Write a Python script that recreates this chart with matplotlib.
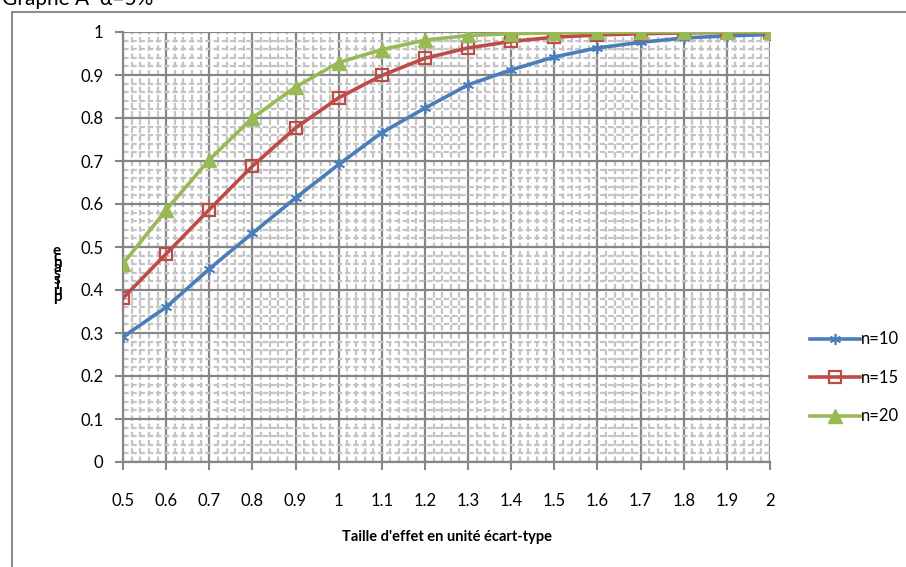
import numpy as np
import matplotlib
matplotlib.use("Agg")
import matplotlib.pyplot as plt
from matplotlib.patches import Rectangle

# data
effect = [0.5, 0.6, 0.7, 0.8, 0.9, 1.0, 1.1, 1.2, 1.3, 1.4, 1.5, 1.6, 1.7, 1.8, 1.9, 2.0]
x_labels = ["0.5", "0.6", "0.7", "0.8", "0.9", "1", "1.1", "1.2", "1.3", "1.4",
            "1.5", "1.6", "1.7", "1.8", "1.9", "2"]
n10 = [0.291, 0.360, 0.449, 0.532, 0.614, 0.692, 0.766, 0.823, 0.877, 0.912,
       0.942, 0.963, 0.976, 0.986, 0.991, 0.994]
n15 = [0.381, 0.484, 0.587, 0.688, 0.777, 0.847, 0.899, 0.939, 0.963, 0.978,
       0.988, 0.993, 0.996, 0.998, 0.999, 1.0]
n20 = [0.461, 0.586, 0.703, 0.800, 0.872, 0.929, 0.959, 0.981, 0.992, 0.996,
       0.998, 0.999, 1.0, 1.0, 1.0, 1.0]
y_ticks = [0, 0.1, 0.2, 0.3, 0.4, 0.5, 0.6, 0.7, 0.8, 0.9, 1.0]
y_labels = ["0", "0.1", "0.2", "0.3", "0.4", "0.5", "0.6", "0.7", "0.8", "0.9", "1"]

plt.rcParams['font.family'] = ['Lato', 'DejaVu Sans']

W, H = 906, 567
fig = plt.figure(figsize=(W / 100, H / 100), dpi=100)

# outer chart border (partly cut off)
fig.patches.append(Rectangle((12 / W, -0.1), 1.2, (H - 12) / H + 0.1,
                             transform=fig.transFigure, fill=False,
                             edgecolor="#8c8c8c", linewidth=1.5))
fig.text(2 / W, 1 - 5 / H, "Graphe A  α=5%", fontsize=15, va="baseline", ha="left")

ax = fig.add_axes([123 / W, 1 - 462 / H, (770 - 123) / W, (462 - 32) / H])

major_c = "#868686"
minor_c = "#c4c4c4"
ax.set_xticks(np.arange(0.5, 2.001, 0.1))
ax.set_xticks(np.arange(0.5, 2.001, 0.02), minor=True)
ax.set_yticks(y_ticks)
ax.set_yticks(np.arange(0, 1.001, 0.02), minor=True)
ax.set_xticklabels(x_labels)
ax.set_yticklabels(y_labels)
ax.grid(which="minor", color=minor_c, linewidth=1.6, linestyle=(0, (2.5, 1.2)), zorder=0)
ax.grid(which="major", color=major_c, linewidth=1.6, zorder=1)
ax.set_axisbelow(True)
ax.set_xlim(0.5, 2.0)
ax.set_ylim(0, 1.0)

for s in ["top", "right"]:
    ax.spines[s].set_visible(False)
for s in ["left", "bottom"]:
    ax.spines[s].set_color(major_c)
    ax.spines[s].set_linewidth(1.6)

ax.tick_params(which="major", length=6, width=1.5, color=major_c, labelsize=12)
ax.tick_params(which="minor", length=0)
ax.tick_params(axis="x", pad=16)
ax.tick_params(axis="y", pad=8)

ax.plot(effect, n10, color="#4a7ebb", linewidth=2.6, marker=(6, 2, 0),
        markersize=8, markeredgewidth=1.2, label="n=10", zorder=3)
ax.plot(effect, n15, color="#be4b48", linewidth=2.6, marker="s",
        markersize=9, markerfacecolor="none", markeredgewidth=1.6,
        label="n=15", zorder=4)
ax.plot(effect, n20, color="#98b954", linewidth=2.6, marker="^",
        markersize=10, label="n=20", zorder=5)

fig.legend(loc="center left", bbox_to_anchor=(803 / W, 1 - 378 / H), frameon=False,
           fontsize=12, handlelength=3.0, handletextpad=0.1, labelspacing=1.35,
           borderaxespad=0)

fig.text(447 / W, 1 - 537 / H, "Taille d'effet en unité écart-type", ha="center",
         va="center", fontsize=10.5, fontweight="bold")

# stacked y-axis label as it appears in the original
fig.text(57 / W, 1 - 274 / H, "\n".join("ecnassiup"), ha="center", va="center",
         fontsize=11, fontweight="bold", linespacing=0.24)

fig.savefig("out.png", dpi=100)
